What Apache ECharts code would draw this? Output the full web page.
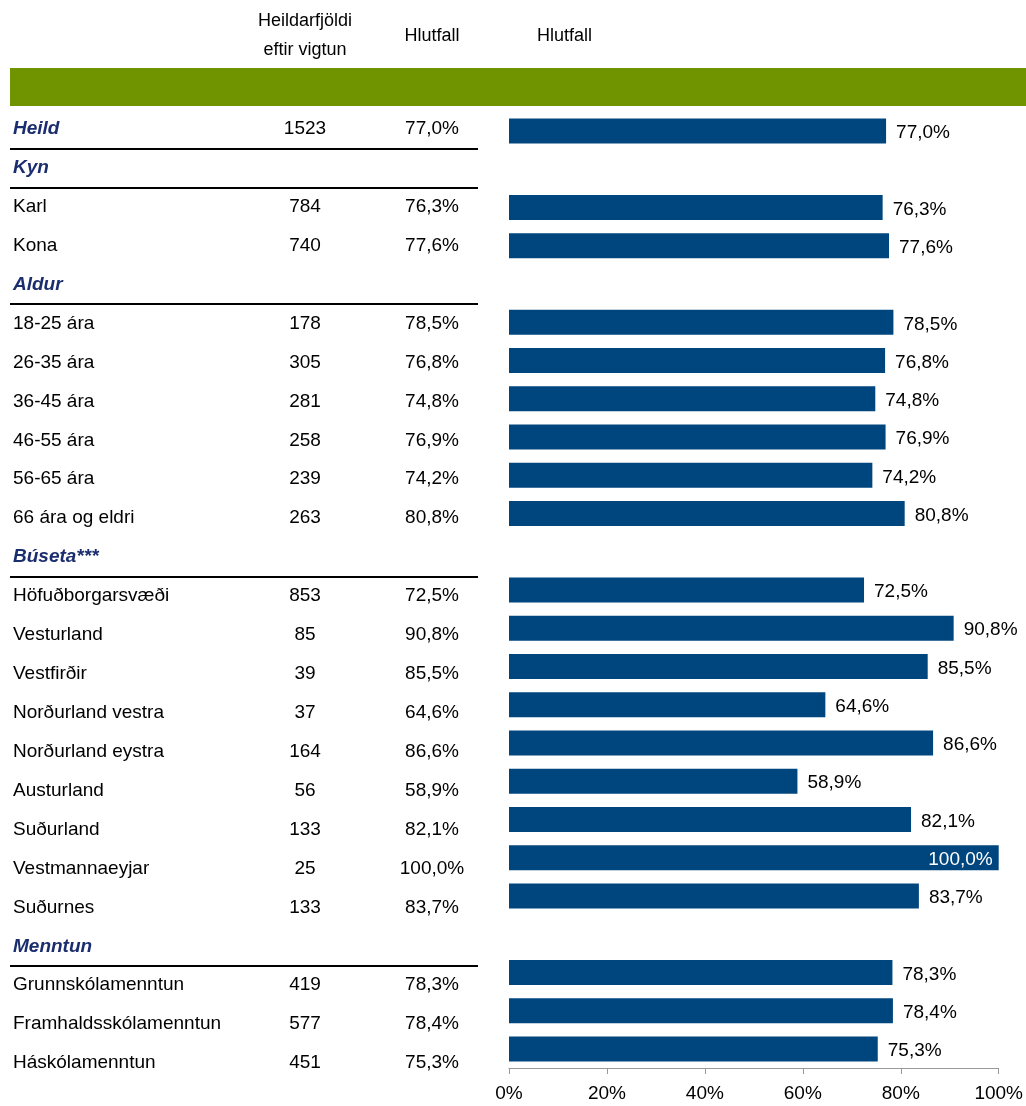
<!DOCTYPE html>
<html>
<head>
<meta charset="utf-8">
<script src="https://cdn.jsdelivr.net/npm/echarts@6/dist/echarts.min.js"></script>
<style>html,body{margin:0;padding:0;background:#fff}#c{width:1026px;height:1106px}</style>
</head>
<body>
<div id="c"></div>
<script>
const categories = ['Heild','Kyn','Karl','Kona','Aldur','18-25 ára','26-35 ára','36-45 ára','46-55 ára','56-65 ára','66 ára og eldri','Búseta***','Höfuðborgarsvæði','Vesturland','Vestfirðir','Norðurland vestra','Norðurland eystra','Austurland','Suðurland','Vestmannaeyjar','Suðurnes','Menntun','Grunnskólamenntun','Framhaldsskólamenntun','Háskólamenntun'];
const headerRows = ['Heild','Kyn','Aldur','Búseta***','Menntun'];
const counts = [1523, null, 784, 740, null, 178, 305, 281, 258, 239, 263, null, 853, 85, 39, 37, 164, 56, 133, 25, 133, null, 419, 577, 451];
const shares = [77.0, null, 76.3, 77.6, null, 78.5, 76.8, 74.8, 76.9, 74.2, 80.8, null, 72.5, 90.8, 85.5, 64.6, 86.6, 58.9, 82.1, 100.0, 83.7, null, 78.3, 78.4, 75.3];
const columnTitles = ['Heildarfjöldi\neftir vigtun', 'Hlutfall', 'Hlutfall'];

const FONT = '"Liberation Sans Narrow","Arial Narrow","Liberation Sans",Arial,sans-serif';
const fmtPct = v => v.toFixed(1).replace('.', ',') + '%';

const chart = echarts.init(document.getElementById('c'), null, {renderer: 'canvas'});
const lblBase = {fontFamily: FONT, fontSize: 19, color: '#000'};

const option = {
  animation: false,
  backgroundColor: '#fff',
  textStyle: {fontFamily: FONT},
  graphic: [
    {type: 'rect', shape: {x: 10, y: 68, width: 1016, height: 38}, style: {fill: '#6F9400'}},
    {type: 'text', x: 305, y: 36, style: {text: columnTitles[0], align: 'center', verticalAlign: 'middle', font: '18px ' + FONT, fill: '#000', lineHeight: 29}},
    {type: 'text', x: 432, y: 36, style: {text: columnTitles[1], align: 'center', verticalAlign: 'middle', font: '18px ' + FONT, fill: '#000'}},
    {type: 'text', x: 537, y: 36, style: {text: columnTitles[2], align: 'left', verticalAlign: 'middle', font: '18px ' + FONT, fill: '#000'}}
  ],
  grid: [
    {left: 509, right: 25, top: 112, height: 956, containLabel: false},
    {left: 10, width: 468, top: 109.5, height: 973, containLabel: false}
  ],
  xAxis: [
    {
      gridIndex: 0, type: 'value', min: 0, max: 100, interval: 20,
      axisLine: {show: true, lineStyle: {color: '#999', width: 1}},
      axisTick: {show: true, length: 6, lineStyle: {color: '#999'}},
      splitLine: {show: false},
      axisLabel: {formatter: '{value}%', fontFamily: FONT, fontSize: 19, color: '#000', margin: 16}
    },
    {gridIndex: 1, type: 'value', show: false}
  ],
  yAxis: [
    {
      gridIndex: 0, type: 'category', inverse: true, data: categories,
      axisLine: {show: false}, axisTick: {show: false}, axisLabel: {show: false}, splitLine: {show: false}
    },
    {
      gridIndex: 1, type: 'category', inverse: true, data: categories, position: 'left',
      axisLine: {show: false}, axisTick: {show: false},
      splitLine: {
        show: true,
        interval: (idx) => idx > 0 && headerRows.includes(categories[idx - 1]),
        lineStyle: {color: ['#000', '#000', '#000', '#000', '#000', 'rgba(0,0,0,0)'], width: 2}
      },
      axisLabel: {
        interval: 0, align: 'left', margin: -3, hideOverlap: false,
        fontFamily: FONT, fontSize: 19, color: '#000',
        formatter: (v) => headerRows.includes(v) ? '{h|' + v + '}' : v,
        rich: {h: {fontFamily: FONT, fontSize: 19, fontWeight: 'bold', fontStyle: 'italic', color: '#1A2D6E'}}
      }
    },
    {
      gridIndex: 1, type: 'category', inverse: true, data: categories, position: 'left', offset: 0,
      axisLine: {show: false}, axisTick: {show: false}, splitLine: {show: false},
      axisLabel: {
        interval: 0, align: 'center', margin: -295, hideOverlap: false,
        fontFamily: FONT, fontSize: 19, color: '#000',
        formatter: (v, i) => counts[i] == null ? '' : String(counts[i])
      }
    },
    {
      gridIndex: 1, type: 'category', inverse: true, data: categories, position: 'left', offset: 0,
      axisLine: {show: false}, axisTick: {show: false}, splitLine: {show: false},
      axisLabel: {
        interval: 0, align: 'center', margin: -422, hideOverlap: false,
        fontFamily: FONT, fontSize: 19, color: '#000',
        formatter: (v, i) => shares[i] == null ? '' : fmtPct(shares[i])
      }
    }
  ],
  series: [
    {
      type: 'bar', xAxisIndex: 0, yAxisIndex: 0, barWidth: 25,
      itemStyle: {color: '#00467E'},
      label: {show: true, position: 'right', distance: 10, offset: [0, 2], ...lblBase, formatter: p => fmtPct(p.value)},
      data: shares.map(v => v == null ? '-' : (v >= 100
        ? {value: v, label: {position: 'insideRight', color: '#fff', distance: 6}}
        : v))
    }
  ]
};
chart.setOption(option);
</script>
</body>
</html>
